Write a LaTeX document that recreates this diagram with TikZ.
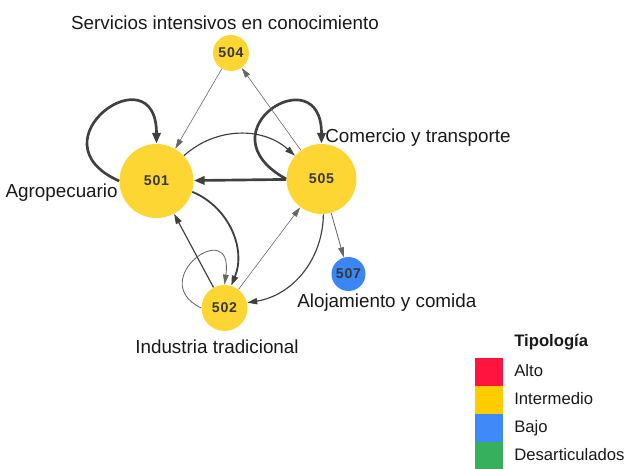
\documentclass[tikz,border=0pt]{standalone}
\usepackage{fontspec}
\setmainfont{Liberation Sans}
\newfontfamily\codefont[LetterSpace=5]{Liberation Sans}
\usetikzlibrary{arrows.meta}

\definecolor{sectoryellow}{RGB}{253,214,51}
\definecolor{sectorblue}{RGB}{58,134,247}
\definecolor{altored}{RGB}{255,20,64}
\definecolor{intermedioyellow}{RGB}{255,204,0}
\definecolor{bajoblue}{RGB}{63,138,249}
\definecolor{desartgreen}{RGB}{54,176,92}
\definecolor{edgegray}{RGB}{64,64,64}

\begin{document}
\begin{tikzpicture}[x=0.6pt, y=0.6pt,
    sector/.style={circle, fill=sectoryellow, inner sep=0pt, text=black!78, font=\codefont\fontsize{8.5}{9}\selectfont\bfseries},
    tag/.style={inner sep=0pt, font=\fontsize{11.3}{13}\selectfont, text=black!90},
    legtext/.style={inner sep=0pt, anchor=base west, font=\fontsize{10}{12}\selectfont, text=black!90},
    swatch/.style={inner sep=0pt, minimum width=16.8pt, minimum height=16.8pt},
    thinedge/.style={draw=black!60, line width=0.35pt, -{Triangle[length=6pt,width=3.4pt]}},
    midedge/.style={draw=edgegray, line width=0.7pt, -{Triangle[length=6pt,width=3.8pt]}},
    heavy/.style={draw=edgegray, line width=1.6pt, -{Triangle[length=6.5pt,width=5pt]}}]
    \useasboundingbox (0,0) rectangle (628,-469);

    % sectors
    \node[sector, minimum size=21.6pt] (n504) at (231,-53) {504};
    \node[sector, minimum size=44.4pt] (n501) at (156.5,-181) {501};
    \node[sector, minimum size=42pt] (n505) at (321.5,-179) {505};
    \node[sector, minimum size=27.6pt] (n502) at (224.5,-308) {502};
    \node[sector, fill=sectorblue, minimum size=20.4pt] (n507) at (348.5,-274) {507};

    % names
    \node[tag, anchor=base] (servicios) at (225,-30) {Servicios intensivos en conocimiento};
    \node[tag, anchor=base west] (comercio) at (325,-143) {Comercio y transporte};
    \node[tag, anchor=base east] (agropecuario) at (118,-198) {Agropecuario};
    \node[tag, anchor=base west] (alojamiento) at (297,-308) {Alojamiento y comida};
    \node[tag, anchor=base west] (industria) at (135,-354) {Industria tradicional};

    % links
    \draw[heavy] (n501.west) .. controls +(-90,40) and +(0,93) .. (n501.north);
    \draw[heavy] (n505.west) .. controls +(-87,48) and +(0,88) .. (n505.north);
    \draw[heavy] (n505) -- (n501);
    \draw[thinedge] (n504) -- (n501);
    \draw[thinedge] (n505) -- (n504);
    \draw[midedge] (n501) to[bend left=42] (n505);
    \draw[midedge, line width=1.1pt] (n501) to[bend left=45] (n502);
    \draw[midedge] (n502) -- (n501);
    \draw[thinedge] (n502) -- (n505);
    \draw[midedge] (n505) to[bend left=40] (n502);
    \draw[thinedge, line width=0.5pt] (n505) -- (n507);
    \draw[thinedge, line width=0.5pt] (n502.west) .. controls +(-57,28) and +(10,70) .. (n502.north);

    % legend
    \node[legtext, font=\fontsize{10}{12}\selectfont\bfseries] (tipologia) at (514,-347) {Tipología};
    \node[swatch, fill=altored] (alto) at (489,-372) {};
    \node[swatch, fill=intermedioyellow] (intermedio) at (489,-400) {};
    \node[swatch, fill=bajoblue] (bajo) at (489,-428) {};
    \node[swatch, fill=desartgreen] (desarticulados) at (489,-456) {};
    \node[legtext] (altotext) at (514,-377) {Alto};
    \node[legtext] (intermediotext) at (514,-405) {Intermedio};
    \node[legtext] (bajotext) at (514,-433) {Bajo};
    \node[legtext] (desarticuladostext) at (514,-461) {Desarticulados};
\end{tikzpicture}
\end{document}
